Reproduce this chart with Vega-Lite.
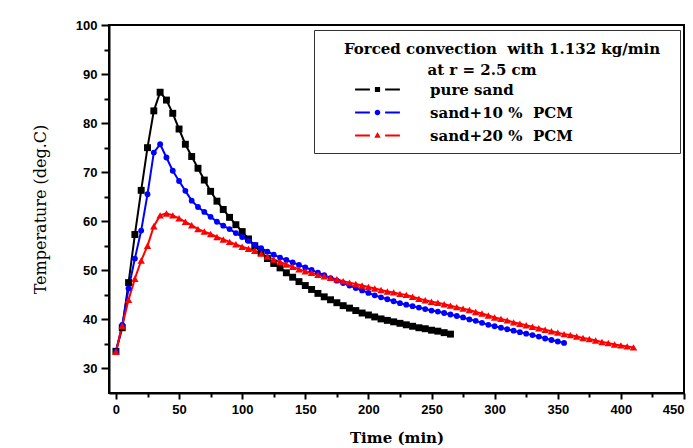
{
  "$schema": "https://vega.github.io/schema/vega-lite/v6.json",
  "autosize": {"type": "none"},
  "width": 575,
  "height": 368,
  "padding": {"left": 109, "top": 25, "right": 9, "bottom": 55},
  "background": "white",
  "config": {
    "view": {"stroke": "#000", "strokeWidth": 2},
    "axis": {
      "grid": false,
      "domainColor": "#000",
      "domainWidth": 2,
      "tickColor": "#000",
      "tickWidth": 2,
      "labelFont": "Liberation Sans",
      "labelFontWeight": "bold",
      "labelFontSize": 13,
      "labelColor": "#000",
      "titleColor": "#000"
    },
    "legend": {
      "orient": "none", "legendX": 205, "legendY": 5,
      "titleFont": "DejaVu Serif", "titleFontWeight": "bold", "titleFontSize": 15, "titleColor": "#000", "titleLimit": 600,
      "titleAnchor": "start", "titleAlign": "left", "titleBaseline": "line-top", "titleLineHeight": 21, "titlePadding": 7,
      "labelFont": "DejaVu Serif", "labelFontWeight": "bold", "labelFontSize": 15, "labelColor": "#000", "labelLimit": 400,
      "labelOffset": 45, "symbolOffset": 47, "symbolSize": 64, "symbolStrokeWidth": 0, "symbolOpacity": 1,
      "rowPadding": 7, "padding": 9,
      "strokeColor": "#333", "fillColor": "#fff"
    }
  },
  "datasets": {
    "d": [
      {"s": "pure sand", "t": 0, "T": 33.5}, {"s": "pure sand", "t": 5, "T": 38.3}, {"s": "pure sand", "t": 10, "T": 47.5}, {"s": "pure sand", "t": 15, "T": 57.3}, {"s": "pure sand", "t": 20, "T": 66.3}, {"s": "pure sand", "t": 25, "T": 75.0}, {"s": "pure sand", "t": 30, "T": 82.5}, {"s": "pure sand", "t": 35, "T": 86.3}, {"s": "pure sand", "t": 40, "T": 84.7}, {"s": "pure sand", "t": 45, "T": 82.0}, {"s": "pure sand", "t": 50, "T": 78.8}, {"s": "pure sand", "t": 55, "T": 75.7}, {"s": "pure sand", "t": 60, "T": 73.2}, {"s": "pure sand", "t": 65, "T": 70.8}, {"s": "pure sand", "t": 70, "T": 68.4}, {"s": "pure sand", "t": 75, "T": 66.1}, {"s": "pure sand", "t": 80, "T": 64.1}, {"s": "pure sand", "t": 85, "T": 62.4}, {"s": "pure sand", "t": 90, "T": 60.8}, {"s": "pure sand", "t": 95, "T": 59.3}, {"s": "pure sand", "t": 100, "T": 57.9}, {"s": "pure sand", "t": 105, "T": 56.4}, {"s": "pure sand", "t": 110, "T": 55.0}, {"s": "pure sand", "t": 115, "T": 53.6}, {"s": "pure sand", "t": 120, "T": 52.4}, {"s": "pure sand", "t": 125, "T": 51.4}, {"s": "pure sand", "t": 130, "T": 50.5}, {"s": "pure sand", "t": 135, "T": 49.5}, {"s": "pure sand", "t": 140, "T": 48.6}, {"s": "pure sand", "t": 145, "T": 47.7}, {"s": "pure sand", "t": 150, "T": 46.9}, {"s": "pure sand", "t": 155, "T": 46.1}, {"s": "pure sand", "t": 160, "T": 45.3}, {"s": "pure sand", "t": 165, "T": 44.6}, {"s": "pure sand", "t": 170, "T": 44.0}, {"s": "pure sand", "t": 175, "T": 43.4}, {"s": "pure sand", "t": 180, "T": 42.8}, {"s": "pure sand", "t": 185, "T": 42.3}, {"s": "pure sand", "t": 190, "T": 41.8}, {"s": "pure sand", "t": 195, "T": 41.3}, {"s": "pure sand", "t": 200, "T": 40.9}, {"s": "pure sand", "t": 205, "T": 40.5}, {"s": "pure sand", "t": 210, "T": 40.1}, {"s": "pure sand", "t": 215, "T": 39.8}, {"s": "pure sand", "t": 220, "T": 39.5}, {"s": "pure sand", "t": 225, "T": 39.2}, {"s": "pure sand", "t": 230, "T": 38.9}, {"s": "pure sand", "t": 235, "T": 38.6}, {"s": "pure sand", "t": 240, "T": 38.3}, {"s": "pure sand", "t": 245, "T": 38.1}, {"s": "pure sand", "t": 250, "T": 37.8}, {"s": "pure sand", "t": 255, "T": 37.6}, {"s": "pure sand", "t": 260, "T": 37.3}, {"s": "pure sand", "t": 265, "T": 37.0},
      {"s": "sand+10 %\u00a0\u00a0PCM", "t": 0, "T": 33.5}, {"s": "sand+10 %\u00a0\u00a0PCM", "t": 5, "T": 38.9}, {"s": "sand+10 %\u00a0\u00a0PCM", "t": 10, "T": 46.3}, {"s": "sand+10 %\u00a0\u00a0PCM", "t": 15, "T": 52.4}, {"s": "sand+10 %\u00a0\u00a0PCM", "t": 20, "T": 58.1}, {"s": "sand+10 %\u00a0\u00a0PCM", "t": 25, "T": 65.5}, {"s": "sand+10 %\u00a0\u00a0PCM", "t": 30, "T": 74.0}, {"s": "sand+10 %\u00a0\u00a0PCM", "t": 35, "T": 75.7}, {"s": "sand+10 %\u00a0\u00a0PCM", "t": 40, "T": 73.0}, {"s": "sand+10 %\u00a0\u00a0PCM", "t": 45, "T": 70.3}, {"s": "sand+10 %\u00a0\u00a0PCM", "t": 50, "T": 68.2}, {"s": "sand+10 %\u00a0\u00a0PCM", "t": 55, "T": 66.2}, {"s": "sand+10 %\u00a0\u00a0PCM", "t": 60, "T": 64.2}, {"s": "sand+10 %\u00a0\u00a0PCM", "t": 65, "T": 62.9}, {"s": "sand+10 %\u00a0\u00a0PCM", "t": 70, "T": 61.9}, {"s": "sand+10 %\u00a0\u00a0PCM", "t": 75, "T": 60.9}, {"s": "sand+10 %\u00a0\u00a0PCM", "t": 80, "T": 59.9}, {"s": "sand+10 %\u00a0\u00a0PCM", "t": 85, "T": 59.1}, {"s": "sand+10 %\u00a0\u00a0PCM", "t": 90, "T": 58.4}, {"s": "sand+10 %\u00a0\u00a0PCM", "t": 95, "T": 57.6}, {"s": "sand+10 %\u00a0\u00a0PCM", "t": 100, "T": 56.8}, {"s": "sand+10 %\u00a0\u00a0PCM", "t": 105, "T": 56.0}, {"s": "sand+10 %\u00a0\u00a0PCM", "t": 110, "T": 55.2}, {"s": "sand+10 %\u00a0\u00a0PCM", "t": 115, "T": 54.5}, {"s": "sand+10 %\u00a0\u00a0PCM", "t": 120, "T": 53.8}, {"s": "sand+10 %\u00a0\u00a0PCM", "t": 125, "T": 53.2}, {"s": "sand+10 %\u00a0\u00a0PCM", "t": 130, "T": 52.6}, {"s": "sand+10 %\u00a0\u00a0PCM", "t": 135, "T": 52.1}, {"s": "sand+10 %\u00a0\u00a0PCM", "t": 140, "T": 51.6}, {"s": "sand+10 %\u00a0\u00a0PCM", "t": 145, "T": 51.1}, {"s": "sand+10 %\u00a0\u00a0PCM", "t": 150, "T": 50.6}, {"s": "sand+10 %\u00a0\u00a0PCM", "t": 155, "T": 50.1}, {"s": "sand+10 %\u00a0\u00a0PCM", "t": 160, "T": 49.5}, {"s": "sand+10 %\u00a0\u00a0PCM", "t": 165, "T": 49.0}, {"s": "sand+10 %\u00a0\u00a0PCM", "t": 170, "T": 48.4}, {"s": "sand+10 %\u00a0\u00a0PCM", "t": 175, "T": 47.9}, {"s": "sand+10 %\u00a0\u00a0PCM", "t": 180, "T": 47.4}, {"s": "sand+10 %\u00a0\u00a0PCM", "t": 185, "T": 46.9}, {"s": "sand+10 %\u00a0\u00a0PCM", "t": 190, "T": 46.4}, {"s": "sand+10 %\u00a0\u00a0PCM", "t": 195, "T": 45.9}, {"s": "sand+10 %\u00a0\u00a0PCM", "t": 200, "T": 45.4}, {"s": "sand+10 %\u00a0\u00a0PCM", "t": 205, "T": 44.9}, {"s": "sand+10 %\u00a0\u00a0PCM", "t": 210, "T": 44.5}, {"s": "sand+10 %\u00a0\u00a0PCM", "t": 215, "T": 44.1}, {"s": "sand+10 %\u00a0\u00a0PCM", "t": 220, "T": 43.7}, {"s": "sand+10 %\u00a0\u00a0PCM", "t": 225, "T": 43.3}, {"s": "sand+10 %\u00a0\u00a0PCM", "t": 230, "T": 43.0}, {"s": "sand+10 %\u00a0\u00a0PCM", "t": 235, "T": 42.7}, {"s": "sand+10 %\u00a0\u00a0PCM", "t": 240, "T": 42.4}, {"s": "sand+10 %\u00a0\u00a0PCM", "t": 245, "T": 42.1}, {"s": "sand+10 %\u00a0\u00a0PCM", "t": 250, "T": 41.8}, {"s": "sand+10 %\u00a0\u00a0PCM", "t": 255, "T": 41.6}, {"s": "sand+10 %\u00a0\u00a0PCM", "t": 260, "T": 41.3}, {"s": "sand+10 %\u00a0\u00a0PCM", "t": 265, "T": 41.0}, {"s": "sand+10 %\u00a0\u00a0PCM", "t": 270, "T": 40.7}, {"s": "sand+10 %\u00a0\u00a0PCM", "t": 275, "T": 40.4}, {"s": "sand+10 %\u00a0\u00a0PCM", "t": 280, "T": 40.0}, {"s": "sand+10 %\u00a0\u00a0PCM", "t": 285, "T": 39.7}, {"s": "sand+10 %\u00a0\u00a0PCM", "t": 290, "T": 39.3}, {"s": "sand+10 %\u00a0\u00a0PCM", "t": 295, "T": 38.9}, {"s": "sand+10 %\u00a0\u00a0PCM", "t": 300, "T": 38.6}, {"s": "sand+10 %\u00a0\u00a0PCM", "t": 305, "T": 38.3}, {"s": "sand+10 %\u00a0\u00a0PCM", "t": 310, "T": 38.0}, {"s": "sand+10 %\u00a0\u00a0PCM", "t": 315, "T": 37.7}, {"s": "sand+10 %\u00a0\u00a0PCM", "t": 320, "T": 37.4}, {"s": "sand+10 %\u00a0\u00a0PCM", "t": 325, "T": 37.1}, {"s": "sand+10 %\u00a0\u00a0PCM", "t": 330, "T": 36.8}, {"s": "sand+10 %\u00a0\u00a0PCM", "t": 335, "T": 36.5}, {"s": "sand+10 %\u00a0\u00a0PCM", "t": 340, "T": 36.1}, {"s": "sand+10 %\u00a0\u00a0PCM", "t": 345, "T": 35.8}, {"s": "sand+10 %\u00a0\u00a0PCM", "t": 350, "T": 35.5}, {"s": "sand+10 %\u00a0\u00a0PCM", "t": 355, "T": 35.2},
      {"s": "sand+20 %\u00a0\u00a0PCM", "t": 0, "T": 33.4}, {"s": "sand+20 %\u00a0\u00a0PCM", "t": 5, "T": 38.7}, {"s": "sand+20 %\u00a0\u00a0PCM", "t": 10, "T": 44.0}, {"s": "sand+20 %\u00a0\u00a0PCM", "t": 15, "T": 48.3}, {"s": "sand+20 %\u00a0\u00a0PCM", "t": 20, "T": 52.0}, {"s": "sand+20 %\u00a0\u00a0PCM", "t": 25, "T": 55.0}, {"s": "sand+20 %\u00a0\u00a0PCM", "t": 30, "T": 59.0}, {"s": "sand+20 %\u00a0\u00a0PCM", "t": 35, "T": 61.2}, {"s": "sand+20 %\u00a0\u00a0PCM", "t": 40, "T": 61.6}, {"s": "sand+20 %\u00a0\u00a0PCM", "t": 45, "T": 61.2}, {"s": "sand+20 %\u00a0\u00a0PCM", "t": 50, "T": 60.6}, {"s": "sand+20 %\u00a0\u00a0PCM", "t": 55, "T": 59.9}, {"s": "sand+20 %\u00a0\u00a0PCM", "t": 60, "T": 59.2}, {"s": "sand+20 %\u00a0\u00a0PCM", "t": 65, "T": 58.4}, {"s": "sand+20 %\u00a0\u00a0PCM", "t": 70, "T": 57.9}, {"s": "sand+20 %\u00a0\u00a0PCM", "t": 75, "T": 57.4}, {"s": "sand+20 %\u00a0\u00a0PCM", "t": 80, "T": 56.8}, {"s": "sand+20 %\u00a0\u00a0PCM", "t": 85, "T": 56.3}, {"s": "sand+20 %\u00a0\u00a0PCM", "t": 90, "T": 55.8}, {"s": "sand+20 %\u00a0\u00a0PCM", "t": 95, "T": 55.3}, {"s": "sand+20 %\u00a0\u00a0PCM", "t": 100, "T": 54.8}, {"s": "sand+20 %\u00a0\u00a0PCM", "t": 105, "T": 54.4}, {"s": "sand+20 %\u00a0\u00a0PCM", "t": 110, "T": 54.0}, {"s": "sand+20 %\u00a0\u00a0PCM", "t": 115, "T": 53.4}, {"s": "sand+20 %\u00a0\u00a0PCM", "t": 120, "T": 52.8}, {"s": "sand+20 %\u00a0\u00a0PCM", "t": 125, "T": 52.2}, {"s": "sand+20 %\u00a0\u00a0PCM", "t": 130, "T": 51.7}, {"s": "sand+20 %\u00a0\u00a0PCM", "t": 135, "T": 51.2}, {"s": "sand+20 %\u00a0\u00a0PCM", "t": 140, "T": 50.7}, {"s": "sand+20 %\u00a0\u00a0PCM", "t": 145, "T": 50.2}, {"s": "sand+20 %\u00a0\u00a0PCM", "t": 150, "T": 49.8}, {"s": "sand+20 %\u00a0\u00a0PCM", "t": 155, "T": 49.5}, {"s": "sand+20 %\u00a0\u00a0PCM", "t": 160, "T": 49.1}, {"s": "sand+20 %\u00a0\u00a0PCM", "t": 165, "T": 48.8}, {"s": "sand+20 %\u00a0\u00a0PCM", "t": 170, "T": 48.5}, {"s": "sand+20 %\u00a0\u00a0PCM", "t": 175, "T": 48.2}, {"s": "sand+20 %\u00a0\u00a0PCM", "t": 180, "T": 47.8}, {"s": "sand+20 %\u00a0\u00a0PCM", "t": 185, "T": 47.5}, {"s": "sand+20 %\u00a0\u00a0PCM", "t": 190, "T": 47.2}, {"s": "sand+20 %\u00a0\u00a0PCM", "t": 195, "T": 46.9}, {"s": "sand+20 %\u00a0\u00a0PCM", "t": 200, "T": 46.6}, {"s": "sand+20 %\u00a0\u00a0PCM", "t": 205, "T": 46.3}, {"s": "sand+20 %\u00a0\u00a0PCM", "t": 210, "T": 46.0}, {"s": "sand+20 %\u00a0\u00a0PCM", "t": 215, "T": 45.7}, {"s": "sand+20 %\u00a0\u00a0PCM", "t": 220, "T": 45.5}, {"s": "sand+20 %\u00a0\u00a0PCM", "t": 225, "T": 45.2}, {"s": "sand+20 %\u00a0\u00a0PCM", "t": 230, "T": 45.0}, {"s": "sand+20 %\u00a0\u00a0PCM", "t": 235, "T": 44.6}, {"s": "sand+20 %\u00a0\u00a0PCM", "t": 240, "T": 44.2}, {"s": "sand+20 %\u00a0\u00a0PCM", "t": 245, "T": 43.9}, {"s": "sand+20 %\u00a0\u00a0PCM", "t": 250, "T": 43.6}, {"s": "sand+20 %\u00a0\u00a0PCM", "t": 255, "T": 43.4}, {"s": "sand+20 %\u00a0\u00a0PCM", "t": 260, "T": 43.1}, {"s": "sand+20 %\u00a0\u00a0PCM", "t": 265, "T": 42.8}, {"s": "sand+20 %\u00a0\u00a0PCM", "t": 270, "T": 42.5}, {"s": "sand+20 %\u00a0\u00a0PCM", "t": 275, "T": 42.2}, {"s": "sand+20 %\u00a0\u00a0PCM", "t": 280, "T": 41.9}, {"s": "sand+20 %\u00a0\u00a0PCM", "t": 285, "T": 41.5}, {"s": "sand+20 %\u00a0\u00a0PCM", "t": 290, "T": 41.2}, {"s": "sand+20 %\u00a0\u00a0PCM", "t": 295, "T": 40.8}, {"s": "sand+20 %\u00a0\u00a0PCM", "t": 300, "T": 40.4}, {"s": "sand+20 %\u00a0\u00a0PCM", "t": 305, "T": 40.1}, {"s": "sand+20 %\u00a0\u00a0PCM", "t": 310, "T": 39.8}, {"s": "sand+20 %\u00a0\u00a0PCM", "t": 315, "T": 39.4}, {"s": "sand+20 %\u00a0\u00a0PCM", "t": 320, "T": 39.1}, {"s": "sand+20 %\u00a0\u00a0PCM", "t": 325, "T": 38.8}, {"s": "sand+20 %\u00a0\u00a0PCM", "t": 330, "T": 38.5}, {"s": "sand+20 %\u00a0\u00a0PCM", "t": 335, "T": 38.2}, {"s": "sand+20 %\u00a0\u00a0PCM", "t": 340, "T": 37.9}, {"s": "sand+20 %\u00a0\u00a0PCM", "t": 345, "T": 37.6}, {"s": "sand+20 %\u00a0\u00a0PCM", "t": 350, "T": 37.3}, {"s": "sand+20 %\u00a0\u00a0PCM", "t": 355, "T": 37.0}, {"s": "sand+20 %\u00a0\u00a0PCM", "t": 360, "T": 36.8}, {"s": "sand+20 %\u00a0\u00a0PCM", "t": 365, "T": 36.5}, {"s": "sand+20 %\u00a0\u00a0PCM", "t": 370, "T": 36.2}, {"s": "sand+20 %\u00a0\u00a0PCM", "t": 375, "T": 36.0}, {"s": "sand+20 %\u00a0\u00a0PCM", "t": 380, "T": 35.7}, {"s": "sand+20 %\u00a0\u00a0PCM", "t": 385, "T": 35.4}, {"s": "sand+20 %\u00a0\u00a0PCM", "t": 390, "T": 35.2}, {"s": "sand+20 %\u00a0\u00a0PCM", "t": 395, "T": 34.9}, {"s": "sand+20 %\u00a0\u00a0PCM", "t": 400, "T": 34.7}, {"s": "sand+20 %\u00a0\u00a0PCM", "t": 405, "T": 34.5}, {"s": "sand+20 %\u00a0\u00a0PCM", "t": 410, "T": 34.3}
    ]
  },
  "data": {"name": "d"},
  "resolve": {
    "axis": {"x": "independent", "y": "independent"},
    "scale": {"color": "independent", "shape": "independent"},
    "legend": {"color": "independent", "shape": "independent"}
  },
  "layer": [
    {
      "mark": {"type": "line", "strokeWidth": 2},
      "encoding": {
        "x": {
          "field": "t", "type": "quantitative",
          "scale": {"domain": [-5.5, 450], "nice": false, "zero": false},
          "axis": {
            "orient": "bottom",
            "values": [0, 50, 100, 150, 200, 250, 300, 350, 400, 450],
            "tickSize": 6, "labelPadding": 4,
            "title": "Time (min)", "titleFont": "DejaVu Serif", "titleFontWeight": "bold", "titleFontSize": 15, "titlePadding": 14
          }
        },
        "y": {
          "field": "T", "type": "quantitative",
          "scale": {"domain": [25, 100], "nice": false, "zero": false},
          "axis": {
            "orient": "left",
            "values": [30, 40, 50, 60, 70, 80, 90, 100],
            "tickSize": 8, "labelPadding": 4,
            "title": "Temperature (deg.C)", "titleFont": "DejaVu Serif", "titleFontWeight": "normal", "titleFontSize": 16, "titlePadding": 27
          }
        },
        "color": {
          "field": "s", "type": "nominal",
          "scale": {"domain": ["pure sand", "sand+10 %\u00a0\u00a0PCM", "sand+20 %\u00a0\u00a0PCM"], "range": ["#000000", "#0000ff", "#ff0000"]},
          "legend": null
        }
      }
    },
    {
      "transform": [{"filter": "datum.s === 'pure sand'"}],
      "mark": {"type": "point", "filled": true, "opacity": 1, "shape": "square", "size": 48, "color": "#000000"},
      "encoding": {
        "x": {
          "field": "t", "type": "quantitative",
          "axis": {"orient": "bottom", "values": [25, 75, 125, 175, 225, 275, 325, 375, 425], "labels": false, "domain": false, "tickSize": 4, "title": null}
        },
        "y": {
          "field": "T", "type": "quantitative",
          "axis": {"orient": "left", "values": [35, 45, 55, 65, 75, 85, 95], "labels": false, "domain": false, "tickSize": 5, "title": null}
        }
      }
    },
    {
      "transform": [{"filter": "indexof(datum.s, '+10') >= 0"}],
      "mark": {"type": "point", "filled": true, "opacity": 1, "shape": "circle", "size": 34, "color": "#0000ff"},
      "encoding": {
        "x": {"field": "t", "type": "quantitative", "axis": null},
        "y": {"field": "T", "type": "quantitative", "axis": null}
      }
    },
    {
      "transform": [{"filter": "indexof(datum.s, '+20') >= 0"}],
      "mark": {"type": "point", "filled": true, "opacity": 1, "shape": "triangle-up", "size": 55, "color": "#ff0000"},
      "encoding": {
        "x": {"field": "t", "type": "quantitative", "axis": null},
        "y": {"field": "T", "type": "quantitative", "axis": null}
      }
    },
    {
      "transform": [{"filter": "datum.t < 0"}],
      "mark": {"type": "point", "filled": true, "opacity": 1, "size": 64},
      "encoding": {
        "color": {
          "field": "s", "type": "nominal",
          "scale": {"domain": ["pure sand", "sand+10 %\u00a0\u00a0PCM", "sand+20 %\u00a0\u00a0PCM"], "range": ["#000000", "#0000ff", "#ff0000"]},
          "legend": {"title": ["\u200b\u00a0\u00a0\u00a0\u00a0Forced convection\u00a0\u00a0with 1.132 kg/min\u00a0\u00a0\u200b", "\u200b\u00a0\u00a0\u00a0\u00a0\u00a0\u00a0\u00a0\u00a0\u00a0\u00a0\u00a0\u00a0\u00a0\u00a0\u00a0\u00a0\u00a0\u00a0\u00a0\u00a0at r = 2.5 cm"]}
        },
        "shape": {
          "field": "s", "type": "nominal",
          "scale": {"domain": ["pure sand", "sand+10 %\u00a0\u00a0PCM", "sand+20 %\u00a0\u00a0PCM"], "range": ["M-5.6,-0.25H-1.9V0.25H-5.6Z M1.9,-0.25H5.6V0.25H1.9Z M-0.65,-0.65H0.65V0.65H-0.65Z", "M-5.6,-0.25H-1.9V0.25H-5.6Z M1.9,-0.25H5.6V0.25H1.9Z M0.7,0A0.7,0.7,0,1,1,-0.7,0A0.7,0.7,0,1,1,0.7,0Z", "M-5.6,-0.25H-1.9V0.25H-5.6Z M1.9,-0.25H5.6V0.25H1.9Z M0,-0.9L0.8,0.55H-0.8Z"]},
          "legend": {"title": ["\u200b\u00a0\u00a0\u00a0\u00a0Forced convection\u00a0\u00a0with 1.132 kg/min\u00a0\u00a0\u200b", "\u200b\u00a0\u00a0\u00a0\u00a0\u00a0\u00a0\u00a0\u00a0\u00a0\u00a0\u00a0\u00a0\u00a0\u00a0\u00a0\u00a0\u00a0\u00a0\u00a0\u00a0at r = 2.5 cm"]}
        }
      }
    }
  ]
}
